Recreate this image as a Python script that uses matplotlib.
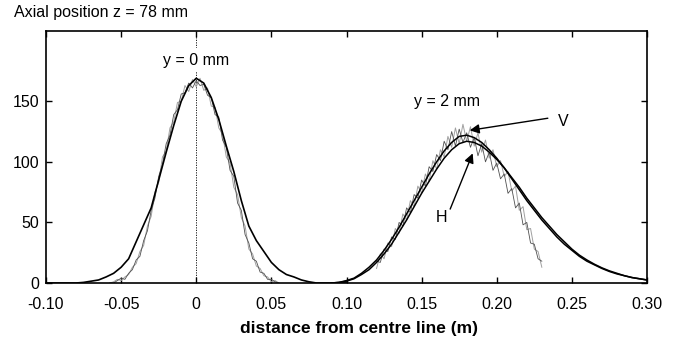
import numpy as np
import matplotlib
matplotlib.use("Agg")
import matplotlib.pyplot as plt

plt.rcParams['font.family'] = ['Liberation Sans', 'DejaVu Sans']

# ---- data ----
# y = 0 mm, smooth (model) profile
x_y0_model = [-0.100, -0.080, -0.075, -0.070, -0.065, -0.060, -0.055, -0.050, -0.045,
              -0.040, -0.035, -0.030, -0.025, -0.020, -0.015, -0.010, -0.005, 0.000,
              0.005, 0.010, 0.015, 0.020, 0.025, 0.030, 0.035, 0.040, 0.045, 0.050,
              0.055, 0.060, 0.065, 0.070, 0.075, 0.080, 0.100]
v_y0_model = [0, 0, 0.5, 1.5, 2.5, 5, 8, 13, 20,
              34, 48, 62, 85, 108, 130, 150, 163, 169,
              165, 153, 135, 113, 92, 68, 47, 35, 26, 17,
              11, 7, 5, 2.5, 1, 0, 0]

# y = 0 mm, measured (noisy) traces
x_y0_meas = np.linspace(-0.0575, 0.055, 46)
v_y0_meas_a = [0, 1, 3, 2, 5, 7, 13, 16, 26, 31, 47, 55, 75, 83, 104, 109, 128, 133,
               149, 150, 163, 158, 168, 162, 169, 159, 161, 146, 145, 128, 123, 104,
               99, 79, 73, 54, 47, 28, 24, 14, 12, 6, 5, 1, 2, 0]
v_y0_meas_b = [0, 0, 2, 4, 3, 8, 11, 19, 22, 35, 43, 60, 70, 88, 98, 115, 122, 139,
               143, 156, 157, 165, 161, 167, 163, 164, 155, 153, 139, 137, 118, 112,
               93, 88, 66, 60, 40, 33, 20, 18, 9, 8, 3, 3, 1, 0]

# y = 2 mm, smooth profiles V and H
x_y2_model = np.linspace(0.090, 0.300, 43)
v_y2_V = [0, 0.5, 2, 4, 8, 13, 19, 27, 36, 46, 57, 68, 79, 90, 100, 109, 116, 121,
          122, 120, 116, 110, 103, 95, 86, 77, 68, 60, 52, 45, 38, 32, 27, 22, 18,
          15, 12, 9.5, 7.5, 6, 4.5, 3.5, 2.5]
v_y2_H = [0, 0.5, 1.5, 3.5, 7, 11, 17, 24, 32, 42, 52, 63, 74, 84, 94, 103, 110, 115,
          117, 116, 113, 108, 102, 95, 87, 79, 70, 62, 54, 47, 40, 34, 28, 23, 19,
          15.5, 12.5, 10, 8, 6, 4.5, 3.5, 2.5]

# y = 2 mm, measured (noisy) traces
x_y2_meas = np.linspace(0.120, 0.230, 45)
v_y2_meas_a = [12, 24, 20, 33, 30, 45, 41, 57, 52, 68, 63, 80, 74, 90, 84, 101, 94,
               110, 104, 121, 112, 128, 115, 131, 117, 129, 113, 124, 108, 118, 103,
               110, 96, 101, 88, 92, 76, 80, 60, 63, 44, 45, 28, 26, 13]
v_y2_meas_b = [18, 17, 28, 26, 38, 36, 50, 47, 62, 58, 73, 70, 85, 80, 96, 92, 106,
               101, 117, 110, 125, 113, 127, 116, 124, 112, 120, 105, 115, 100, 108,
               93, 99, 86, 90, 74, 78, 62, 66, 48, 50, 33, 32, 20, 18]

x_ticks = [-0.10, -0.05, 0, 0.05, 0.10, 0.15, 0.20, 0.25, 0.30]
x_tick_labels = ['-0.10', '-0.05', '0', '0.05', '0.10', '0.15', '0.20', '0.25', '0.30']
y_ticks = [0, 50, 100, 150]

# ---- figure ----
fig = plt.figure(figsize=(6.75, 3.38), dpi=100)
ax = fig.add_axes([46/675, 1-283/338, (647-46)/675, (283-31)/338])

ax.axvline(0, color='black', lw=0.6, ls=(0, (1.5, 1.5)), zorder=1)

ax.plot(x_y0_meas, v_y0_meas_a, color='#a0a0a0', lw=0.7, zorder=2)
ax.plot(x_y0_meas, v_y0_meas_b, color='#505050', lw=0.6, zorder=2)
ax.plot(x_y0_model, v_y0_model, color='black', lw=1.2, zorder=3)

ax.plot(x_y2_meas, v_y2_meas_a, color='#a0a0a0', lw=0.7, zorder=2)
ax.plot(x_y2_meas, v_y2_meas_b, color='#505050', lw=0.6, zorder=2)
ax.plot(x_y2_model, v_y2_V, color='black', lw=1.1, zorder=3)
ax.plot(x_y2_model, v_y2_H, color='black', lw=1.1, zorder=3)

ax.set_xlim(-0.10, 0.30)
ax.set_ylim(0, 208)
ax.set_xticks(x_ticks)
ax.set_xticklabels(x_tick_labels)
ax.set_yticks(y_ticks)
ax.tick_params(direction='in', length=4, width=1, top=True, right=True,
               labelsize=11.5, colors='black')
ax.tick_params(axis='x', pad=10)
ax.tick_params(axis='y', pad=5)
for s in ax.spines.values():
    s.set_linewidth(1.2)

ax.text(0, 184, 'y = 0 mm', ha='center', va='center', fontsize=11.5, zorder=2.5,
        bbox=dict(facecolor='white', edgecolor='none', pad=3))
ax.text(0.1667, 150, 'y = 2 mm', ha='center', va='center', fontsize=11.5)
ax.text(0.244, 133, 'V', ha='center', va='center', fontsize=11.5)
ax.text(0.163, 54, 'H', ha='center', va='center', fontsize=11.5)

arrow = dict(arrowstyle='-|>', color='black', lw=1.0, mutation_scale=14,
             shrinkA=0, shrinkB=0)
ax.annotate('', xy=(0.182, 126), xytext=(0.234, 136), arrowprops=arrow)
ax.annotate('', xy=(0.184, 107), xytext=(0.169, 61), arrowprops=arrow)

fig.text(14/675, 1-12/338, 'Axial position z = 78 mm', ha='left', va='center', fontsize=11.5)
fig.text(359/675, 1-328/338, 'distance from centre line (m)', ha='center', va='center',
         fontsize=12.5, fontweight='bold')

fig.savefig('out.png', dpi=100)
